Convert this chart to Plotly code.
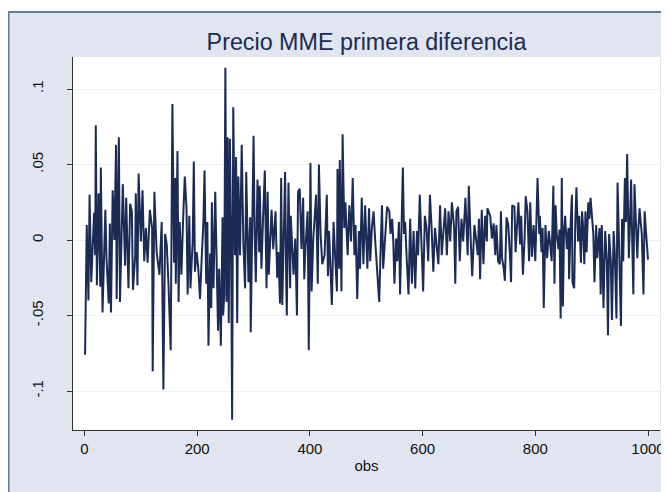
import plotly.graph_objects as go

obs = [
    1, 4, 7, 9, 12, 15, 17, 19, 20, 22, 25, 28, 29, 32, 37, 39, 43, 45, 47, 50,
    53, 56, 57, 61, 63, 68, 72, 74, 78, 81, 84, 86, 90, 91, 94, 96, 100, 103, 106, 109,
    112, 116, 120, 121, 124, 128, 133, 137, 140, 143, 146, 149,
    153, 156, 159, 161, 162, 165, 167, 169, 172, 175, 178, 181, 183, 186, 188, 192, 194, 196,
    199, 202, 205, 208, 211, 213, 216, 218, 220, 223, 225, 226, 229, 232, 235, 237, 239, 242,
    245, 246, 248, 250, 252, 254, 256, 258, 260, 262, 264, 267, 269, 271, 273, 276, 279, 282,
    285, 287, 291, 294, 295, 300, 302, 304, 307, 310, 311, 314, 317,
    320, 323, 325, 327, 332, 335, 339, 342, 344, 347, 349, 351, 353, 356, 358, 359, 362, 365,
    366, 369, 371, 374, 377, 379, 382, 385, 388, 390, 392, 396, 398, 401, 403, 406, 409, 411,
    414, 416, 419, 422, 426, 430, 432, 434, 439, 442, 445, 448, 449, 452, 453, 456, 458, 461,
    463, 467, 470, 473, 476, 479, 481, 484, 487,
    489, 492, 495, 498, 502, 505, 507, 510, 513, 516, 519, 521, 523, 526, 528, 530, 533, 537,
    541, 543, 546, 548, 550, 553, 555, 558, 560, 562, 565, 567, 569, 572, 575, 578, 581, 584,
    587, 590, 592, 595, 598, 601, 604, 607, 610, 613, 616, 619, 622, 625, 628, 631, 634, 637,
    640, 643, 646, 649, 652, 656,
    658, 660, 663, 666, 669, 672, 676, 680, 682, 685, 688, 692, 695, 698, 700, 702, 705, 708,
    711, 714, 715, 720, 723, 726, 729, 731, 734, 737, 739, 741, 744, 746, 749, 752, 755, 757,
    759, 763, 765, 768, 770, 773, 775, 778, 781, 783, 786, 789, 791, 794, 797, 800, 804, 807,
    808, 811, 813, 815, 818, 821, 824,
    826, 829, 832, 834, 836, 838, 841, 843, 845, 847, 849, 851, 853, 856, 859, 860, 863, 865,
    866, 869, 871, 873, 876, 878, 881, 883, 885, 887, 889, 891, 894, 896, 898, 901, 903, 905,
    908, 910, 914, 916, 918, 921, 924, 927, 929, 931, 934, 936, 939, 941, 944, 946, 949, 952,
    954, 956, 959, 961, 963, 966, 968, 970, 972, 974, 976, 979, 981, 983, 985, 987, 989, 992,
    994, 996, 998, 1000,
]

precio_diff = [
    -0.076, 0.010, -0.040, 0.030, -0.028, 0.005, 0.018, -0.010, 0.076, -0.030,
    0.031, -0.031, 0.048, -0.048, 0.020, -0.012, -0.042, 0.011, -0.048, 0.033,
    0.000, 0.063, -0.039, 0.068, -0.041, 0.037, -0.017, 0.028, -0.032, 0.024,
    0.019, -0.033, -0.010, 0.031, -0.030, 0.044, -0.001, 0.033, -0.014, 0.008,
    -0.015, 0.020, 0.008, -0.087, 0.032, -0.008, -0.023, 0.012, -0.099, 0.004,
    -0.003, -0.029,
    -0.073, 0.090, -0.015, 0.041, -0.029, 0.059, -0.041, 0.012, -0.023, 0.014,
    0.042, 0.021, -0.036, 0.016, -0.032, -0.001, 0.052, -0.021, -0.008, -0.019,
    -0.039, -0.012, 0.012, 0.046, -0.029, 0.012, -0.070, -0.009, -0.045, 0.025,
    -0.032, 0.032, -0.012, -0.060, -0.019, -0.070, 0.015, -0.050, -0.036, 0.114,
    -0.041, 0.068, -0.055, 0.067, 0.004, -0.119, 0.088, -0.010, 0.055, -0.055,
    0.042, -0.010, 0.063, -0.003, -0.032, 0.045, -0.028, 0.015, -0.061, 0.069,
    0.004, -0.028, 0.040, -0.008, 0.036, -0.019, 0.016,
    0.046, -0.032, 0.032, -0.023, 0.020, -0.006, 0.019, -0.025, -0.008, -0.042,
    0.041, -0.043, -0.012, 0.045, -0.028, -0.050, 0.038, -0.032, 0.016, -0.014,
    -0.023, 0.001, -0.050, 0.032, 0.034, -0.006, 0.028, -0.026, -0.006, 0.019,
    -0.073, 0.051, -0.034, 0.001, 0.016, 0.030, -0.029, 0.050, 0.004, -0.016,
    -0.010, 0.030, -0.024, 0.006, -0.043, 0.012, -0.012, -0.034, 0.047, -0.019,
    0.053, -0.034, 0.070, 0.008, 0.025, -0.010, 0.023, -0.001, 0.041, -0.010,
    0.010, -0.039, 0.006,
    -0.019, 0.028, -0.016, 0.023, -0.019, 0.021, -0.014, 0.008, 0.019, -0.001,
    -0.019, -0.025, -0.041, 0.001, 0.023, -0.019, 0.001, 0.022, 0.019, 0.004,
    0.014, -0.001, -0.029, 0.001, -0.014, 0.012, -0.036, 0.008, 0.048, 0.004,
    0.012, -0.014, -0.036, 0.014, -0.029, 0.006, -0.032, 0.006, -0.010, 0.030,
    -0.003, -0.034, 0.016, 0.008, -0.014, 0.030, 0.008, -0.021, 0.008, -0.006,
    -0.016, 0.023, -0.010, 0.006, 0.021, -0.010, 0.019, -0.001, 0.025, 0.008,
    -0.029, 0.019, 0.022, -0.014, 0.014, -0.001, 0.028, -0.010, 0.036, 0.004,
    -0.024, 0.010, -0.001, -0.010, 0.014, -0.026, 0.020, -0.016, 0.016, -0.001,
    0.021, 0.016, 0.001, 0.011, -0.010, 0.010, -0.014, -0.016, 0.019, -0.012,
    -0.019, -0.027, 0.015, 0.010, -0.010, -0.028, 0.023, 0.022, -0.008, 0.016,
    0.025, -0.003, 0.016, -0.023, 0.001, 0.029, 0.019, -0.014, 0.025, -0.011,
    0.010, -0.014, 0.041, 0.004, 0.016, -0.008, 0.008, -0.045, 0.010, -0.012,
    0.006,
    -0.001, -0.014, 0.036, -0.029, 0.023, 0.004, -0.006, 0.007, -0.052, 0.041,
    -0.044, 0.006, 0.016, -0.006, 0.008, -0.026, 0.013, 0.030, -0.028, -0.032,
    0.012, 0.035, -0.001, 0.016, -0.015, 0.019, 0.008, -0.016, 0.019, -0.008,
    0.025, 0.014, 0.028, 0.010, 0.004, -0.028, 0.010, -0.012, 0.008, -0.036,
    0.010, -0.045, 0.006, -0.014, -0.063, 0.004, -0.014, -0.053, 0.006, -0.008,
    -0.052, 0.038, -0.001, -0.057, 0.014, -0.014, 0.041, 0.012, 0.057, -0.012,
    0.012, 0.040, -0.001, -0.036, 0.037, 0.004, -0.012, 0.008, 0.021, 0.012,
    0.004, -0.036, 0.019, 0.008, -0.001, -0.013,
]

x_ticks = [0, 200, 400, 600, 800, 1000]
y_ticks = [-0.1, -0.05, 0, 0.05, 0.1]
y_tick_text = ["-.1", "-.05", "0", ".05", ".1"]

# the page body adds an 8px margin, so the figure is sized and laid out to fit inside it
OFF = 8
W, H = 669 - OFF, 492 - OFF
L, R, T, B = 73 - OFF, 660 - OFF, 57 - OFF, 430 - OFF
BG = "#e0e5ef"
BORDER = "#5f7d96"
LINE = "#1c2b55"

fig = go.Figure()
fig.add_trace(go.Scatter(
    x=obs, y=precio_diff, mode="lines",
    line=dict(color=LINE, width=2),
    showlegend=False, hoverinfo="skip",
))

def px_x(p):
    return (p - L) / (R - L)

def px_y(p):
    return (B - p) / (B - T)

box_top = 11 - OFF
shapes = [
    dict(type="rect", xref="paper", yref="paper", x0=px_x(-5), x1=px_x(W + 5),
         y0=px_y(box_top), y1=px_y(-5), fillcolor="white", line=dict(width=0), layer="above"),
    dict(type="line", xref="paper", yref="paper", x0=px_x(0), x1=px_x(W + 5),
         y0=px_y(box_top + 1), y1=px_y(box_top + 1), line=dict(color=BORDER, width=2),
         layer="above"),
    dict(type="line", xref="paper", yref="paper", x0=px_x(0.5), x1=px_x(0.5),
         y0=px_y(H + 5), y1=px_y(box_top), line=dict(color=BORDER, width=2), layer="above"),
]

fig.update_layout(
    width=W, height=H,
    margin=dict(l=L, r=W - R, t=T, b=H - B, pad=0, autoexpand=False),
    paper_bgcolor=BG, plot_bgcolor="white",
    font=dict(family="Liberation Sans, Arial, sans-serif", color="#111111", size=15),
    title=dict(text="Precio MME primera diferencia", x=0.5, xref="paper",
               y=1 - (42 - OFF) / H, yref="container", yanchor="middle", xanchor="center",
               font=dict(size=23.3, color="#1c2b55")),
    shapes=shapes,
)

fig.update_xaxes(
    range=[-20.4, 1021.3], tickvals=x_ticks, ticks="outside", ticklen=5,
    tickcolor="#333333", showline=True, linecolor="#333333", linewidth=1,
    showgrid=False, zeroline=False, tickfont=dict(size=15), automargin=False,
    title=dict(text="obs", font=dict(size=15), standoff=4),
)
fig.update_yaxes(
    range=[-0.1258, 0.1212], tickvals=y_ticks, ticktext=y_tick_text,
    ticks="outside", ticklen=5, tickcolor="#333333", tickangle=-90,
    showline=True, linecolor="#333333", linewidth=1,
    showgrid=True, gridcolor="#eaf0f4", gridwidth=1, zeroline=False,
    tickfont=dict(size=15), ticklabelstandoff=18, automargin=False,
)

fig.write_html("out.html")
